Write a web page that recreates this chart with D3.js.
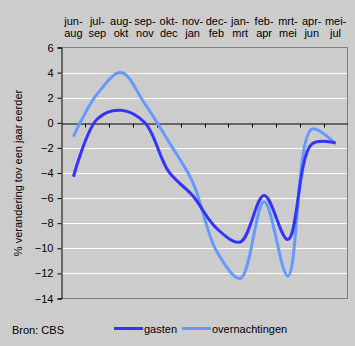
<!DOCTYPE html>
<html><head><meta charset="utf-8">
<script src="https://cdn.jsdelivr.net/npm/d3@7"></script>
<style>html,body{margin:0;padding:0;background:#cccccc;}svg{display:block;}</style>
</head><body>
<script>
const categoriesTop = ["jun-","jul-","aug-","sep-","okt-","nov-","dec-","jan-","feb-","mrt-","apr-","mei-"];
const categoriesBottom = ["aug","sep","okt","nov","dec","jan","feb","mrt","apr","mei","jun","jul"];
const gasten = [-4.3, 0.3, 1.0, 0.0, -3.9, -5.8, -8.4, -9.5, -5.8, -9.3, -1.7, -1.6];
const overnachtingen = [-1.1, 2.3, 4.0, 1.5, -1.5, -4.7, -10.2, -12.4, -6.3, -12.2, -0.5, -1.7];
const yTicks = [6,4,2,0,-2,-4,-6,-8,-10,-12,-14];

const W = 355, H = 346;
const pL = 61.5, pR = 347.5, pT = 47.5, pB = 298.5;
const font = "Liberation Sans, Arial, sans-serif";

const svg = d3.select("body").append("svg").attr("width", W).attr("height", H);
svg.append("rect").attr("width", W).attr("height", H).attr("fill", "#cccccc");

const idx = d3.range(categoriesTop.length);
const x = d3.scaleBand().domain(idx).range([pL, pR]);
const y = d3.scaleLinear().domain([-14, 6]).range([pB, pT]);

// gridlines
svg.append("g").selectAll("line").data(yTicks.filter(d => d !== 6 && d !== -14 && d !== 0))
  .join("line").attr("x1", pL).attr("x2", pR)
  .attr("y1", d => Math.round(y(d)) + 0.5).attr("y2", d => Math.round(y(d)) + 0.5)
  .attr("stroke", "#ffffff").attr("stroke-width", 1);

// border top/right/bottom
svg.append("path").attr("d", `M${pL},${pT}H${pR}V${pB}H${pL}`)
  .attr("fill", "none").attr("stroke", "#808080").attr("stroke-width", 1);

// y axis
const yAxis = d3.axisLeft(y).tickValues(yTicks).tickSize(4).tickPadding(4);
const gy = svg.append("g").attr("transform", `translate(${pL},0)`).call(yAxis);
gy.select(".domain").attr("stroke", "#000");
gy.selectAll(".tick line").attr("stroke", "#000");
gy.selectAll(".tick text").attr("font-family", font).attr("font-size", 11).attr("fill", "#000");

// zero line with ticks
const y0 = Math.round(y(0)) + 0.5;
const xAxis = d3.axisBottom(x).tickValues([]).tickSize(0);
const gx = svg.append("g").attr("transform", `translate(0,${y0})`).call(xAxis);
gx.select(".domain").attr("stroke", "#000");
gx.append("g").selectAll("line").data(idx.slice(1))
  .join("line").attr("x1", d => Math.round(x(d)) + 0.5).attr("x2", d => Math.round(x(d)) + 0.5)
  .attr("y1", 0).attr("y2", 4).attr("stroke", "#000");

// top category labels
const lab = svg.append("g").attr("font-family", font).attr("font-size", 11).attr("fill", "#000").attr("text-anchor", "middle");
lab.selectAll("text.t").data(idx).join("text").attr("class", "t")
  .attr("x", d => x(d) + x.bandwidth() / 2).attr("y", 25).text(d => categoriesTop[d]);
lab.selectAll("text.b").data(idx).join("text").attr("class", "b")
  .attr("x", d => x(d) + x.bandwidth() / 2).attr("y", 37).text(d => categoriesBottom[d]);

// y label
svg.append("text").attr("transform", `translate(22,${(pT + pB) / 2}) rotate(-90)`)
  .attr("text-anchor", "middle").attr("font-family", font).attr("font-size", 11).attr("fill", "#000")
  .text("% verandering tov een jaar eerder");

const line = d3.line().x((d, i) => x(i) + x.bandwidth() / 2).y(d => y(d)).curve(d3.curveCatmullRom.alpha(0.5));

svg.append("path").datum(overnachtingen).attr("d", line).attr("fill", "none")
  .attr("stroke", "#6699ff").attr("stroke-width", 3).attr("stroke-linejoin", "round");
svg.append("path").datum(gasten).attr("d", line).attr("fill", "none")
  .attr("stroke", "#3333ff").attr("stroke-width", 3).attr("stroke-linejoin", "round");

// legend and source
svg.append("text").attr("x", 12).attr("y", 334).attr("font-family", font).attr("font-size", 11).text("Bron: CBS");
const legend = [["gasten", "#3333ff", 114], ["overnachtingen", "#6699ff", 182]];
legend.forEach(([name, col, lx]) => {
  svg.append("line").attr("x1", lx).attr("x2", lx + 29).attr("y1", 328.5).attr("y2", 328.5)
    .attr("stroke", col).attr("stroke-width", 3);
  svg.append("text").attr("x", lx + 30).attr("y", 333).attr("font-family", font).attr("font-size", 11).text(name);
});
</script>
</body></html>
